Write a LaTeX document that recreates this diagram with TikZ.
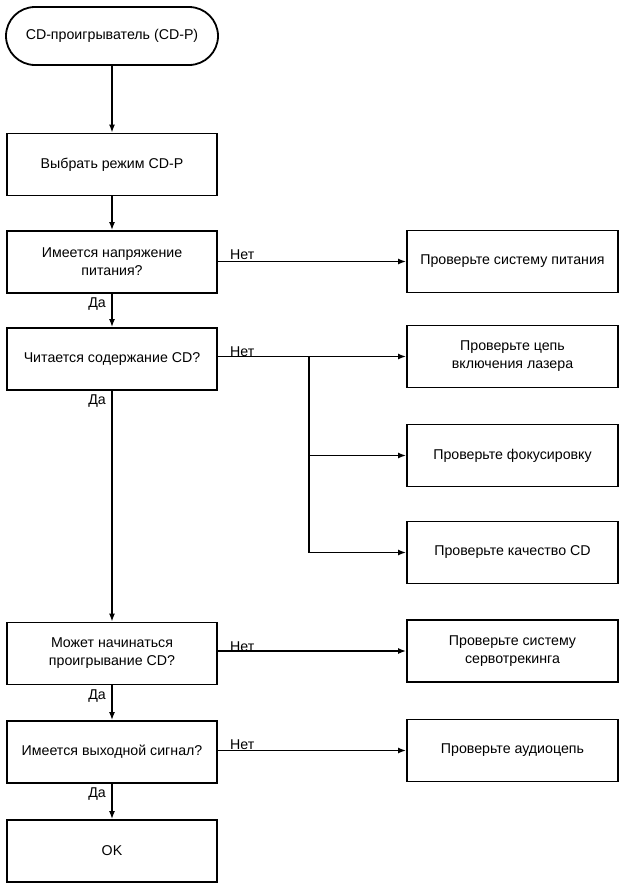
\documentclass[tikz,border=0pt]{standalone}
\usepackage{fontspec}
\setmainfont{Liberation Sans}
\usetikzlibrary{arrows.meta}
\begin{document}
\begin{tikzpicture}[x=1pt,y=1pt,
  every node/.style={font=\fontsize{14.2}{18}\selectfont},
  box/.style={draw,line width=1.8pt,minimum width=210pt,minimum height=62pt,align=center,inner sep=2pt},
  rbox/.style={box,minimum width=211pt},
  pill/.style={draw,line width=1.8pt,minimum width=212pt,minimum height=58pt,rounded corners=29pt},
  conn/.style={line width=1.8pt,-{Latex[length=8pt,width=6pt]}},
  lbl/.style={inner sep=1pt}]
\useasboundingbox (0,0) rectangle (625,-889);
\node[pill] (start) at (112,-36) {CD-проигрыватель (CD-P)};
\node[box] (b1) at (112,-164.5) {Выбрать режим CD-P};
\node[box] (d1) at (112,-262) {Имеется напряжение\\питания?};
\node[box] (d2) at (112,-359) {Читается содержание CD?};
\node[box] (d3) at (112,-653.5) {Может начинаться\\проигрывание CD?};
\node[box] (d4) at (112,-752) {Имеется выходной сигнал?};
\node[box] (ok) at (112,-851) {OK};
\node[rbox] (r1) at (512.5,-261.5) {Проверьте систему питания};
\node[rbox] (r2) at (512.5,-356.5) {Проверьте цепь\\включения лазера};
\node[rbox] (r3) at (512.5,-455.5) {Проверьте фокусировку};
\node[rbox] (r4) at (512.5,-552.5) {Проверьте качество CD};
\node[rbox] (r5) at (512.5,-651) {Проверьте систему\\сервотрекинга};
\node[rbox] (r6) at (512.5,-750.5) {Проверьте аудиоцепь};
\coordinate (j) at (309,-356.5);
% trunk
\draw[conn] (start) -- (b1);
\draw[conn] (b1) -- (d1);
\draw[conn] (d1) -- (d2);
\draw[conn] (d2) -- (d3);
\draw[conn] (d3) -- (d4);
\draw[conn] (d4) -- (ok);
% no branches
\draw[conn] (d1.east |- r1.west) -- (r1.west);
\draw[conn] (d2.east |- r2.west) -- (r2.west);
\draw[line width=1.8pt] (j) -- (j |- r4.west);
\draw[conn] (j |- r3.west) -- (r3.west);
\draw[conn] (j |- r4.west) -- (r4.west);
\draw[conn] (d3.east |- r5.west) -- (r5.west);
\draw[conn] (d4.east |- r6.west) -- (r6.west);
% labels
\foreach \d in {d1,d2,d3,d4} {
  \node[lbl,anchor=north east] at ([xshift=-5pt,yshift=-3pt]\d.south) {Да};
  \node[lbl,anchor=south west] at ([xshift=11pt,yshift=1pt]\d.east) {Нет};
}
\end{tikzpicture}
\end{document}
